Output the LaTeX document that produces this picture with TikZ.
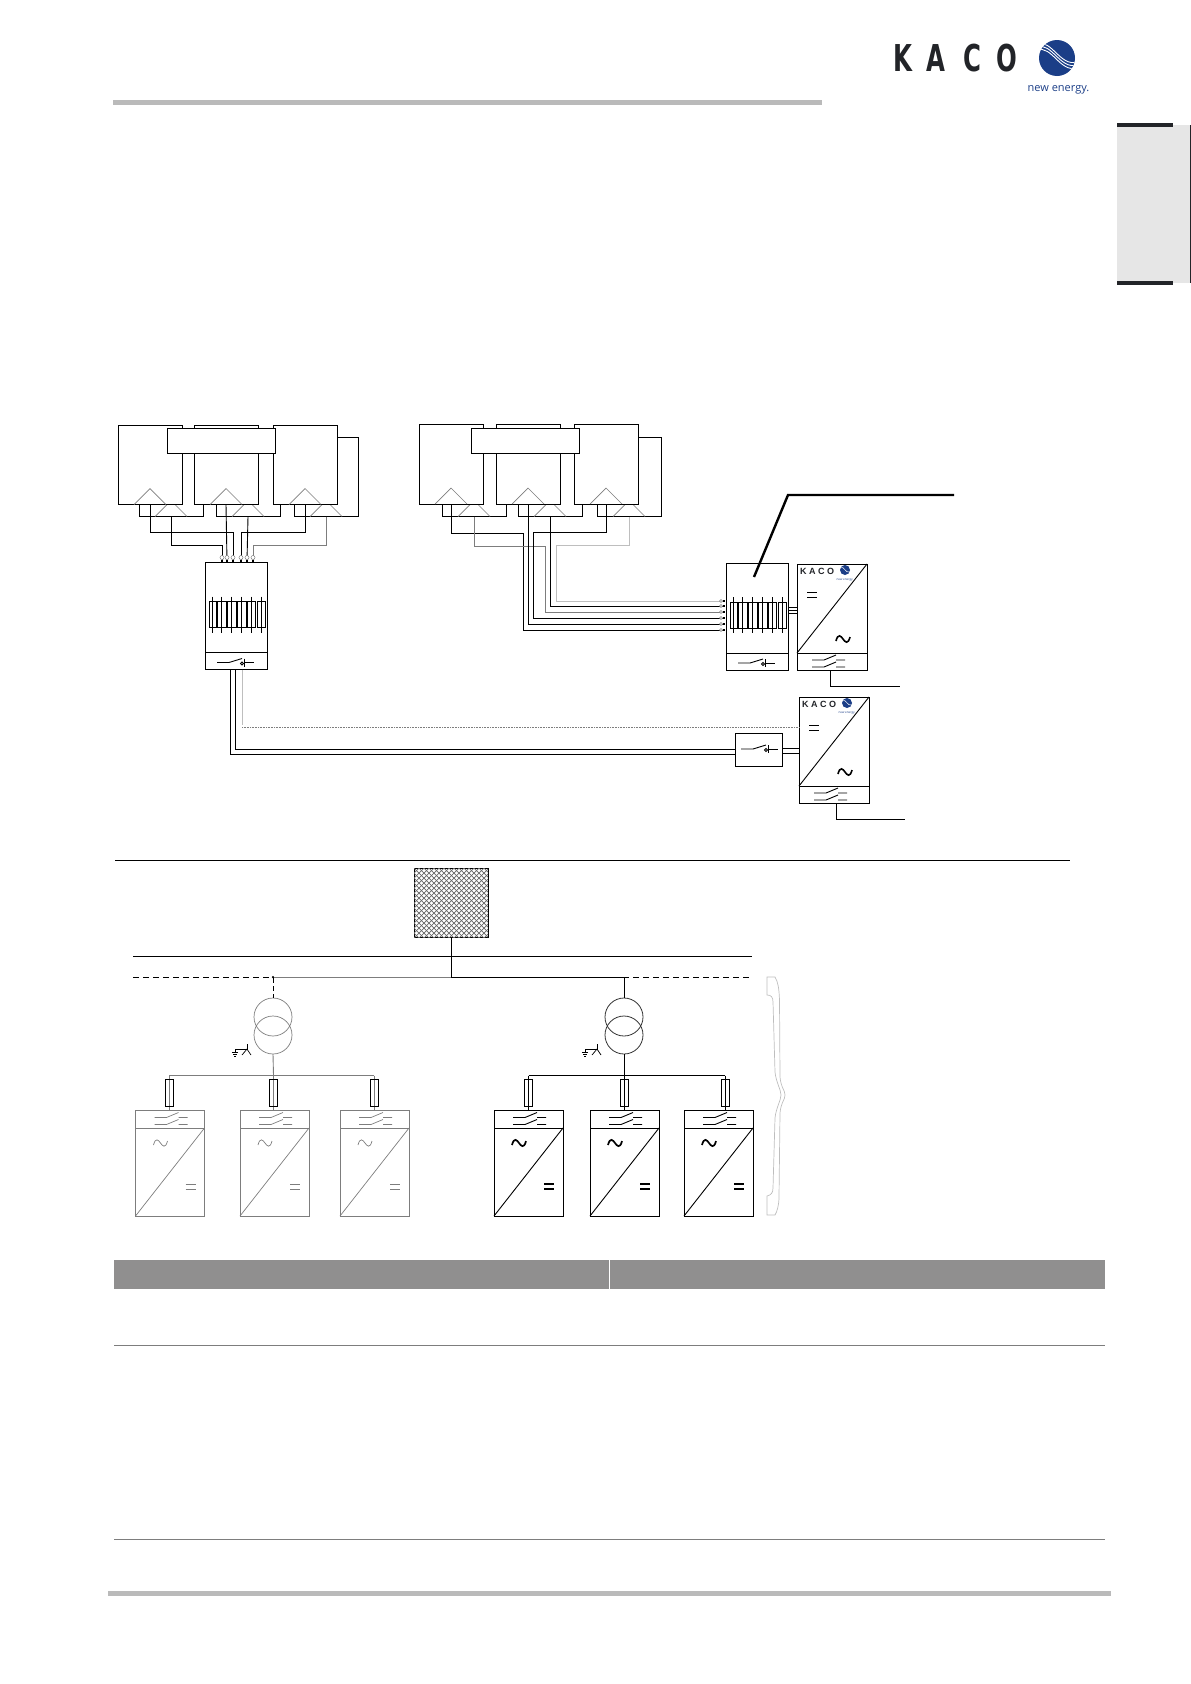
\documentclass[tikz,border=0pt]{standalone}
\usepackage{fontspec}
\usepackage{graphicx}
\setmainfont{Liberation Sans}
\newfontfamily\logofont{Open Sans}
\newfontfamily\markfont{DejaVu Sans}
\usetikzlibrary{positioning}
\definecolor{kacoblue}{RGB}{27,62,135}
\definecolor{kacoink}{RGB}{34,36,40}
\definecolor{rulegray}{RGB}{186,186,186}
\definecolor{bandgray}{RGB}{144,143,143}
\definecolor{tabgray}{RGB}{230,230,230}
\definecolor{wiregray}{RGB}{125,125,125}
\definecolor{palegray}{RGB}{190,190,190}

\tikzset{
	jbox/.pic={\draw[line width=.7pt,wiregray] (-16,0) -- (0,-16) -- (16,0);},
	fuses/.pic={
		\foreach \a/\b in {4/11,12/21,22/31,32/41,42/50,52/60} {
			\draw (\a,39) rectangle (\b,65);
			\draw ({(\a+\b)/2},34) -- ({(\a+\b)/2},70);
		}
	},
	dcswitch/.pic={
		\draw (0,0) -- (12,0) -- (25,-4);
		\draw (27,-4) -- (27,4) (27,0) -- (37,0);
		\draw (25,1) circle (1.5pt);
	},
	acswitch/.pic={
		\draw (0,0) -- (12,0) -- (24,-5) (24,0) -- (33,0);
		\draw (0,7) -- (12,7) -- (24,2) (24,7) -- (33,7);
	},
	equal/.pic={\draw (0,0) -- (10,0) (0,5) -- (10,5);},
	wave/.pic={\draw (-7,2) .. controls (-5,-6) and (-2,-3) .. (0,0) .. controls (2,3) and (5,6) .. (7,-2);},
	earth/.pic={
		\draw (0,-5) -- (0,0) -- (-12,0) -- (-12,3);
		\draw (-5,6) -- (0,0) -- (4,6);
		\draw (-15,3) -- (-9,3) (-14,5) -- (-10,5) (-13,7) -- (-11,7);
	},
	kacohead/.pic={
		\node[text=kacoink,inner sep=0] (name) at (20,7) {\fontsize{9}{9}\selectfont\bfseries K A C O};
		\node[circle,fill=kacoblue,minimum size=10pt,inner sep=0] (disc) at (48,6) {};
		\draw[white,line width=.5pt] (44,3) .. controls (47,3) and (49,9) .. (52,8);
		\node[text=kacoblue,inner sep=0] (claim) at (48,16) {\logofont\fontsize{3}{3}\selectfont new energy.};
	}
}

\begin{document}
\begin{tikzpicture}[x=1pt,y=-1pt,line width=.9pt,node distance=12pt,line join=miter]
	\tikzstyle{every node}=[outer sep=0,inner sep=0]
	\tikzstyle{panel}=[draw=black,fill=white,anchor=north west,minimum width=64pt,minimum height=79.5pt]
	\tikzstyle{caption}=[draw=black,fill=white,anchor=north west,minimum width=108pt,minimum height=25.5pt]
	\tikzstyle{combiner}=[draw=black,anchor=north west,minimum width=62pt,minimum height=90pt]
	\tikzstyle{bay}=[draw=black,minimum width=62pt,minimum height=17pt]
	\tikzstyle{term}=[fill=black,minimum size=2.5pt]
	\tikzstyle{ring}=[circle,draw=wiregray,fill=white,line width=.5pt,minimum size=4pt]
	\tikzstyle{inverter}=[anchor=north west,minimum width=70pt,minimum height=89pt]
	\tikzstyle{cell}=[minimum width=70pt,minimum height=17.5pt]
	\tikzstyle{fuse}=[draw=black,minimum width=8pt,minimum height=27pt]
	\tikzstyle{coil}=[circle,minimum size=38pt]

	\useasboundingbox (0,0) rectangle (1191,1684);

	% page furniture
	\fill[rulegray] (113,100) rectangle (822,105);
	\fill[rulegray] (108,1591) rectangle (1111,1596);
	\fill[bandgray] (114,1260) rectangle (608.5,1289);
	\fill[bandgray] (609.5,1260) rectangle (1105,1289);
	\draw[wiregray,line width=.8pt] (114,1345) -- (1105,1345);
	\draw[wiregray,line width=.8pt] (114,1539) -- (1105,1539);
	\fill[tabgray] (1117,125) rectangle (1190,283);
	\fill[kacoink] (1117,123) rectangle (1173,127);
	\fill[kacoink] (1117,281) rectangle (1173,285);
	\draw[kacoink,line width=.8pt] (1190,125) -- (1190,283);

	% logo
	\foreach \n/\x in {K/902.5,A/936,C/972,O/1007}
		\node[text=kacoink] (logo\n) at (\x,58.5) {\scalebox{.66}[1]{\markfont\fontsize{37}{37}\selectfont\bfseries \n}};
	\node[circle,fill=kacoblue,minimum size=36pt] (disc) at (1057,58) {};
	\begin{scope}
		\clip (1057,58) circle (18pt);
		\foreach \o in {-3,0,3}
			\draw[white,line width=.9pt] (1037,{47+\o}) .. controls (1052,{42+\o}) and (1060,{70+\o}) .. (1077,{65+\o});
	\end{scope}
	\node[text=kacoblue] (claim) at (1058.5,90) {\logofont\fontsize{11}{11}\selectfont new energy.};

	% left array
	\node[panel] (b1) at (139,437) {};
	\node[panel] (b2) [right=13pt of b1] {};
	\node[panel] (b3) [right=14pt of b2] {};
	\foreach \n in {b1,b2,b3} \pic at (\n.south) {jbox};
	\node[panel] (a1) at (118,425) {};
	\node[panel] (a2) [right=12pt of a1] {};
	\node[panel] (a3) [right=15pt of a2] {};
	\foreach \n in {a1,a2,a3} \pic at (\n.south) {jbox};
	\node[caption] (t1) at (167,428) {};

	% right array
	\node[panel] (c1) at (442,437) {};
	\node[panel] (c2) [right=12pt of c1] {};
	\node[panel] (c3) [right=15pt of c2] {};
	\foreach \n in {c1,c2,c3} \pic at (\n.south) {jbox};
	\node[panel] (d1) at (419,424.5) {};
	\node[panel] (d2) [right=13pt of d1] {};
	\node[panel] (d3) [right=14pt of d2] {};
	\foreach \n in {d1,d2,d3} \pic at (\n.south) {jbox};
	\node[caption] (t2) at (471,428) {};

	% combiner boxes
	\node[combiner] (m1) at (205,562.5) {};
	\node[bay] (s1) [below=0pt of m1] {};
	\pic at (m1.north west) {fuses};
	\pic at ([shift={(12,10)}]s1.north west) {dcswitch};
	\node[combiner] (m2) at (726,563) {};
	\node[bay] (s2) [below=0pt of m2] {};
	\pic at (m2.north west) {fuses};
	\pic at ([shift={(12,10)}]s2.north west) {dcswitch};

	% string terminals
	\foreach \n/\x in {1/222,2/227,3/233,4/241,5/247,6/253}
		\node[term] (k\n) at (\x,561) {};
	\foreach \n/\y in {1/601,2/606,3/612,4/618,5/624,6/630}
		\node[term] (r\n) at (724,\y) {};
	\coordinate (f1) at (233,532);
	\coordinate (f2) at (222,545);
	\coordinate (f3) at (241,532);
	\coordinate (f4) at (253,545);
	\coordinate (e1) at (523,533);
	\coordinate (e2) at (545,546);
	\coordinate (e3) at (533,532);
	\coordinate (e4) at (556,545);

	\draw (a1.south) |- (f1) -- (k3);
	\draw (b1.south) |- (f2) -- (k1);
	\draw (a2.south) -- (k2);
	\draw (b2.south) -- (k5);
	\draw (a3.south) |- (f3) -- (k4);
	\draw[wiregray] (b3.south) |- (f4) -- (k6);

	\draw (d1.south) |- (e1) |- (r6);
	\draw[wiregray] (c1.south) |- (e2) |- (r3);
	\draw (d2.south) |- (r5);
	\draw (c2.south) |- (r2);
	\draw (d3.south) |- (e3) |- (r4);
	\draw[palegray] (c3.south) |- (e4) |- (r1);

	\foreach \n/\x in {1/222,2/227,3/233,4/241,5/247,6/253}
		\node[ring] (u\n) at (\x,557.5) {};
	\foreach \n/\y in {1/601,2/606,3/612,4/618,5/624,6/630}
		\node[ring,minimum size=3pt] (v\n) at (721,\y) {};

	% leader
	\coordinate (l1) at ([shift={(28,14)}]m2.north west);
	\coordinate (l2) at (788,495);
	\coordinate (l3) at (954,495);
	\draw[line width=2.4pt] (l1) -- (l2) -- (l3);

	% inverters of the upper plan
	\node[inverter,draw=black] (i1) at (797,564) {};
	\node[cell,draw=black] (h1) [below=0pt of i1] {};
	\node[inverter,draw=black] (i2) at (799,697) {};
	\node[cell,draw=black] (h2) [below=0pt of i2] {};
	\foreach \n in {1,2} {
		\draw (i\n.south west) -- (i\n.north east);
		\pic (p\n) at (i\n.north west) {kacohead};
		\pic at ([shift={(10,28)}]i\n.north west) {equal};
		\pic[line width=1.6pt] at ([shift={(46,75)}]i\n.north west) {wave};
		\pic at ([shift={(15,7)}]h\n.north west) {acswitch};
	}

	% links to the inverters
	\coordinate (g1) at (788,607);
	\coordinate (g2) at (788,610.5);
	\coordinate (g3) at (788,613.5);
	\foreach \n in {1,2,3} \draw (g\n) -- (g\n -| i1.west);

	\node[draw=black,minimum width=47pt,minimum height=33pt,anchor=north west] (q) at (735,733) {};
	\pic at ([shift={(6,16)}]q.north west) {dcswitch};
	\coordinate (n1) at ([shift={(30,0)}]s1.south west);
	\coordinate (n2) at ([shift={(25.5,0)}]s1.south west);
	\coordinate (n3) at ([shift={(37,0)}]s1.south west);
	\draw (n1) |- (q.west);
	\draw (n2) |- ([shift={(0,5)}]q.west);
	\draw[palegray] (n3) -- ++(0,55);
	\coordinate (n4) at ([shift={(0,30.7)}]i2.north west);
	\draw[wiregray,line width=.8pt,dash pattern=on .9pt off .7pt] (n3 |- n4) -- (n4);
	\coordinate (g4) at ([shift={(0,-1.5)}]q.east);
	\coordinate (g5) at ([shift={(0,3.5)}]q.east);
	\draw (g4) -- (g4 -| i2.west);
	\draw (g5) -- (g5 -| i2.west);

	\coordinate (o1) at (900,686);
	\coordinate (o2) at (905,819);
	\draw ([shift={(33,0)}]h1.south west) |- (o1);
	\draw ([shift={(37,0)}]h2.south west) |- (o2);

	% grid plan
	\coordinate (y1) at (115,860);
	\coordinate (y2) at (1070,860);
	\coordinate (y3) at (133,956);
	\coordinate (y4) at (752,956);
	\coordinate (y5) at (133,977.4);
	\coordinate (y6) at (752,977.4);
	\draw (y1) -- (y2);
	\draw (y3) -- (y4);
	\draw[dash pattern=on 5.5pt off 4.5pt] (y5) -- (y6);

	\node[draw=black,anchor=north west,minimum width=74pt,minimum height=69pt] (z) at (414,868) {};
	\begin{scope}
		\clip (z.south west) rectangle (z.north east);
		\foreach \i in {0,5,...,145} {
			\draw[black!60,line width=.7pt] ([shift={(\i,0)}]z.north west) -- ++(-70,70);
			\draw[black!60,line width=.7pt] ([shift={(\i-70,0)}]z.north west) -- ++(70,70);
		}
	\end{scope}
	\node[circle,fill=black,minimum size=2.5pt] (j1) at (273,977) {};
	\coordinate (j2) at (451,977);
	\draw (z.south) -- (j2);
	\draw[wiregray] (j1) -- (j2);

	\node[coil,draw=wiregray,line width=.7pt] (w1) at (273,1017) {};
	\node[coil,draw=wiregray,line width=.7pt] (w2) [below=-20pt of w1] {};
	\node[coil,draw=black!80,line width=.8pt] (w3) at (624,1017) {};
	\node[coil,draw=black!80,line width=.8pt] (w4) [below=-20pt of w3] {};
	\draw[dash pattern=on 5pt off 3pt] (j1) -- (w1.north);
	\draw (j2) -| (w3.north);
	\pic[line width=.7pt] at ([shift={(-26,14)}]w2.center) {earth};
	\pic[line width=.7pt] at ([shift={(-27,14)}]w4.center) {earth};

	% inverter rows with their fuses
	\foreach \n/\l/\x/\c/\w/\t in {1/135.5/169/wiregray/.7/.7,2/240/273.5/wiregray/.7/.7,3/340/374/wiregray/.7/.7,4/494/528.5/black/.9/1.7,5/590/624/black/.9/1.7,6/684/725/black/.9/1.7} {
		\node[inverter,draw=\c,line width=\w pt,minimum width=69pt,minimum height=88pt] (x\n) at (\l,1128) {};
		\node[cell,draw=\c,line width=\w pt,minimum width=69pt] (h\n\n) [above=0pt of x\n] {};
		\draw[\c,line width=\w pt] (x\n.south west) -- (x\n.north east);
		\pic[color=\c,line width=\w pt] at ([shift={(19,7)}]h\n\n.north west) {acswitch};
		\pic[color=\c,line width=\t pt] at ([shift={(25,15)}]x\n.north west) {wave};
		\pic[color=\c,line width=\t pt] at ([shift={(50,56)}]x\n.north west) {equal};
		\coordinate (tap\n) at (\x,1075.5);
		\draw[\c] (tap\n) -- (tap\n |- h\n\n.north);
		\node[fuse,fill=none,line width=.8pt] (f\n\n) at (\x,1093) {};
	}
	\draw[wiregray] (tap1) -- (tap3);
	\draw[wiregray] (w2.south) -- (tap2);
	\draw (tap4) -- (tap6);
	\draw (w4.south) -- (tap5);

	% brace
	\draw[palegray,line width=.7pt] (767,977) -- (775,977)
		.. controls (778,982) and (779,988) .. (779.5,1000) -- (780,1077)
		.. controls (781,1088) and (785,1090) .. (785,1095)
		.. controls (785,1100) and (781,1102) .. (780,1113) -- (779,1197)
		.. controls (779,1205) and (777,1212) .. (775,1215) -- (767,1215) -- (767,1196)
		.. controls (771,1195) and (773,1193) .. (773,1188) -- (775,1118)
		.. controls (776,1108) and (781,1100) .. (781,1095)
		.. controls (781,1090) and (776,1082) .. (775,1072) -- (773,1002)
		.. controls (773,997) and (771,995) .. (767,995) -- cycle;
\end{tikzpicture}
\end{document}
